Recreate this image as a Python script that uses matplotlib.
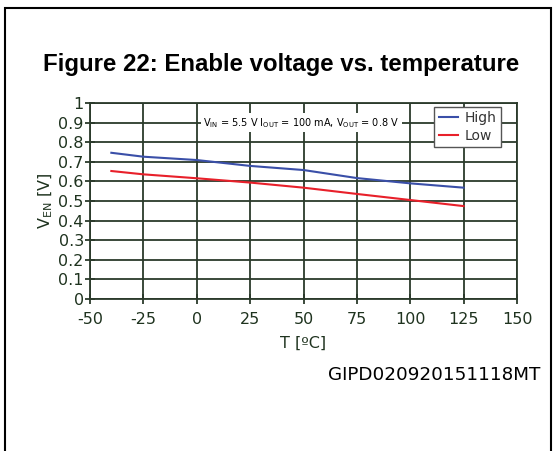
import matplotlib
matplotlib.use('Agg')
from matplotlib import pyplot as plt
from matplotlib.patches import Rectangle

# Values
temperature = [-40, -25, 0, 25, 50, 75, 100, 125]
vHigh = [0.746, 0.726, 0.709, 0.679, 0.658, 0.617, 0.590, 0.568]
vLow = [0.653, 0.636, 0.616, 0.594, 0.568, 0.536, 0.505, 0.474]
xTicks = [-50, -25, 0, 25, 50, 75, 100, 125, 150]
yTicks = [0, 0.1, 0.2, 0.3, 0.4, 0.5, 0.6, 0.7, 0.8, 0.9, 1]

gridColor = '#2b3a2b'
textColor = '#1f331f'

plt.rcParams['axes.unicode_minus'] = False

fig = plt.figure(figsize=(5.55, 4.51), dpi=100)

# Outer page frame
fig.patches.append(Rectangle((5 / 555, -0.01), 546 / 555, 1 - 8 / 451 + 0.01,
                             transform=fig.transFigure, fill=False,
                             edgecolor='black', linewidth=1.5))

fig.text(281 / 555, 1 - 64 / 451, 'Figure 22: Enable voltage vs. temperature',
         ha='center', va='center', fontsize=17.3, fontweight='bold',
         family='Liberation Sans')

ax = fig.add_axes([90 / 555, 1 - 299 / 451, 427 / 555, 196 / 451])
ax.plot(temperature, vHigh, color='#3a4fa8', linewidth=1.5, label='High')
ax.plot(temperature, vLow, color='#e8202a', linewidth=1.5, label='Low')

ax.set_xlim(-50, 150)
ax.set_ylim(0, 1)
ax.set_xticks(xTicks)
ax.set_yticks(yTicks)
ax.set_yticklabels([('%g' % v) for v in yTicks])
ax.grid(True, color=gridColor, linewidth=1.3)
for s in ax.spines.values():
    s.set_color(gridColor)
    s.set_linewidth(1.3)
ax.tick_params(direction='inout', length=7, width=1.3, color=gridColor,
               labelcolor=textColor, labelsize=11.5)
ax.tick_params(axis='y', pad=1)
ax.tick_params(axis='x', pad=6)

ax.set_xlabel('T [ºC]', color=textColor, fontsize=11.5, labelpad=6)
ax.set_ylabel('V$_{\\mathregular{EN}}$ [V]', color=textColor, fontsize=11.5, labelpad=2)

ax.text(49, 0.9, 'V$_{\\mathregular{IN}}$ = 5.5 V I$_{\\mathregular{OUT}}$ = 100 mA, V$_{\\mathregular{OUT}}$ = 0.8 V',
        ha='center', va='center', fontsize=7.0, color='black',
        bbox=dict(facecolor='white', edgecolor='none', pad=2))

leg = ax.legend(loc='upper right', bbox_to_anchor=(0.9625, 0.98), fontsize=10,
                fancybox=False, framealpha=1, edgecolor='#555555',
                handlelength=1.4, borderpad=0.3, labelspacing=0.3,
                handletextpad=0.5, borderaxespad=0)
leg.get_frame().set_linewidth(1.0)
for t in leg.get_texts():
    t.set_color('#333333')

fig.text(540 / 555, 1 - 375 / 451, 'GIPD020920151118MT', ha='right', va='center',
         fontsize=13.2, color='black')

plt.savefig('out.png')
